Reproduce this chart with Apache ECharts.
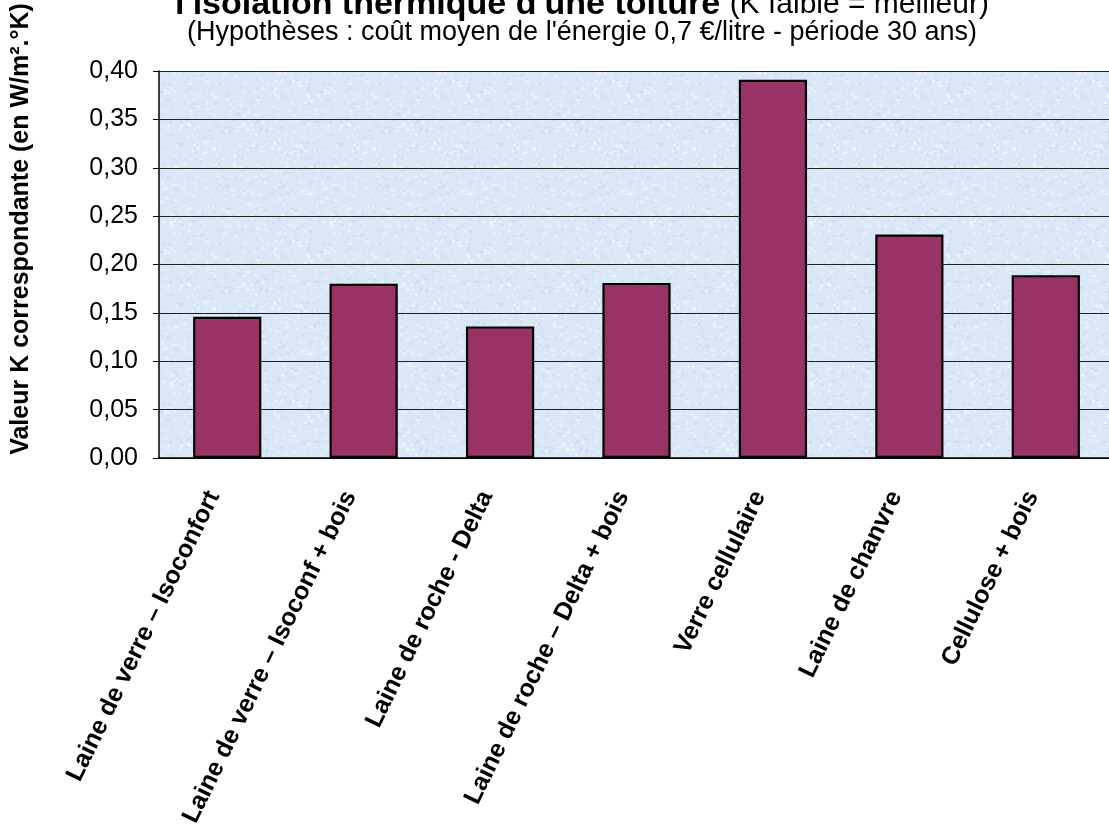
<!DOCTYPE html>
<html>
<head>
<meta charset="utf-8">
<script src="https://cdn.jsdelivr.net/npm/echarts@6/dist/echarts.min.js"></script>
<style>
  html, body { margin: 0; padding: 0; background: #fff; overflow: hidden; }
  #chart { width: 1109px; height: 832px; }
</style>
</head>
<body>
<div id="chart"></div>
<script>
// Isolants de toiture et coefficient K obtenu
const categories = [
  'Laine de verre – Isoconfort',
  'Laine de verre – Isoconf + bois',
  'Laine de roche - Delta',
  'Laine de roche – Delta + bois',
  'Verre cellulaire',
  'Laine de chanvre',
  'Cellulose + bois'
];
const kValues = [0.146, 0.180, 0.136, 0.181, 0.391, 0.231, 0.189];
const yTicks = [0, 0.05, 0.10, 0.15, 0.20, 0.25, 0.30, 0.35, 0.40];

const titleMain = "l'isolation thermique d'une toiture";
const titleNote = '(K faible = meilleur)';
const subtitle = "(Hypothèses : coût moyen de l'énergie 0,7 €/litre - période 30 ans)";
const yName = 'Valeur K correspondante (en W/m².°K)';

const FONT = '"Liberation Sans", Arial, sans-serif';

// Papier bleuté pour le fond de la zone de tracé (motif déterministe)
function paperTexture() {
  const c = document.createElement('canvas');
  c.width = 160; c.height = 160;
  const g = c.getContext('2d');
  g.fillStyle = '#dae7f6';
  g.fillRect(0, 0, 160, 160);
  const hash = (i, k) => {
    const s = Math.sin(i * 12.9898 + k * 78.233) * 43758.5453;
    return s - Math.floor(s);
  };
  for (let i = 0; i < 900; i++) {
    const x = hash(i, 1) * 160, y = hash(i, 2) * 160;
    const t = hash(i, 3);
    g.fillStyle = t < 0.55 ? 'rgba(250,252,255,0.55)' : (t < 0.85 ? 'rgba(190,210,235,0.45)' : 'rgba(205,225,245,0.6)');
    g.fillRect(x, y, 1 + hash(i, 4) * 3, 1 + hash(i, 5) * 2);
  }
  return c;
}

const chart = echarts.init(document.getElementById('chart'), null, { renderer: 'canvas' });

chart.setOption({
  backgroundColor: '#ffffff',
  animation: false,
  textStyle: { fontFamily: FONT },
  grid: {
    left: 159, right: -5, top: 71, bottom: 374,
    containLabel: false,
    outerBoundsMode: 'none',
    show: true,
    backgroundColor: { image: paperTexture(), repeat: 'repeat' },
    borderWidth: 0
  },
  xAxis: {
    type: 'category',
    data: categories,
    axisLine: { show: true, lineStyle: { color: '#000', width: 1.5 } },
    axisTick: { show: false },
    axisLabel: {
      interval: 0,
      rotate: 64,
      margin: 41,
      verticalAlign: 'bottom',
      lineHeight: 30,
      color: '#000',
      fontFamily: FONT,
      fontWeight: 'bold',
      fontSize: 25
    }
  },
  yAxis: {
    type: 'value',
    min: yTicks[0],
    max: yTicks[yTicks.length - 1],
    interval: 0.05,
    axisLine: { show: true, lineStyle: { color: '#000', width: 1.5 } },
    axisTick: { show: true, inside: false, length: 6, lineStyle: { color: '#000' } },
    axisLabel: {
      margin: 21,
      color: '#000',
      fontFamily: FONT,
      fontSize: 25,
      formatter: v => v.toFixed(2).replace('.', ',')
    },
    splitLine: { show: true, lineStyle: { color: '#222', width: 1.2 } }
  },
  series: [{
    type: 'bar',
    data: kValues,
    barWidth: '50%',
    itemStyle: {
      color: '#993366',
      borderColor: '#000',
      borderWidth: 2.2
    }
  }],
  graphic: [
    {
      type: 'text',
      x: 582, y: 5,
      style: {
        text: '{b|' + titleMain + ' }{n|' + titleNote + '}',
        textAlign: 'center',
        textVerticalAlign: 'middle',
        rich: {
          b: { fontFamily: FONT, fontWeight: 'bold', fontSize: 34, fill: '#000' },
          n: { fontFamily: FONT, fontSize: 30, fill: '#000' }
        }
      }
    },
    {
      type: 'text',
      x: 582, y: 33,
      style: {
        text: subtitle,
        textAlign: 'center',
        textVerticalAlign: 'middle',
        fontFamily: FONT,
        fontSize: 27,
        fill: '#000'
      }
    },
    {
      type: 'text',
      x: 21, y: 229,
      rotation: Math.PI / 2,
      style: {
        text: yName,
        textAlign: 'center',
        textVerticalAlign: 'middle',
        fontFamily: FONT,
        fontWeight: 'bold',
        fontSize: 25,
        fill: '#000'
      }
    }
  ]
});
</script>
</body>
</html>
